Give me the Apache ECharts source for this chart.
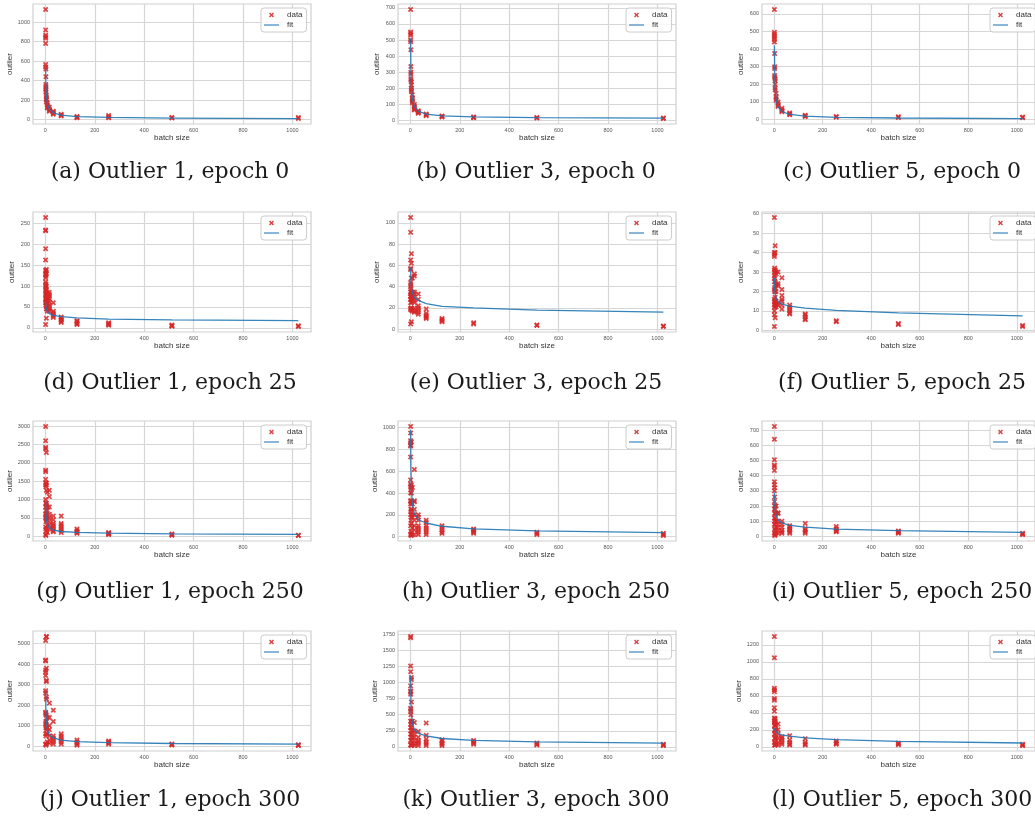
<!DOCTYPE html>
<html>
<head>
<meta charset="utf-8">
<script src="https://cdn.jsdelivr.net/npm/echarts@6.0.0/dist/echarts.min.js"></script>
<style>
  html, body { margin: 0; padding: 0; background: #ffffff; }
  #chart { width: 1035px; height: 819px; }
</style>
</head>
<body>
<div id="chart"></div>
<script>
// Batch sizes used in the sweep (x axis)
const batchSizes = [1, 2, 4, 8, 16, 32, 64, 128, 256, 512, 1024];
const xTicks = [0, 200, 400, 600, 800, 1000];

// Outlier counts: one inner list of runs per batch size
const o1e0 = [
  [1130, 920, 865, 850, 835, 780, 565, 540], [520, 440, 360, 340, 320, 300, 280],
  [250, 230, 210, 200, 180], [170, 150, 130, 120], [130, 110, 95, 85], [85, 75, 65, 55],
  [55, 45, 38], [32, 25, 20], [42, 28, 18], [22, 16], [22, 12]
];
const o3e0 = [
  [690, 550, 540, 530, 500, 490], [440, 335, 300, 290, 260, 250], [240, 220, 200, 190, 180],
  [160, 140, 130, 120, 110], [100, 90, 80, 70, 65], [60, 55, 50, 45], [40, 35, 30],
  [28, 25, 22], [22, 20, 17], [18, 15], [15, 12]
];
const o5e0 = [
  [625, 495, 485, 475, 465, 455, 440], [375, 300, 290, 250, 240], [230, 220, 200, 180, 170],
  [150, 130, 120, 110], [100, 90, 80, 75], [65, 55, 50, 45], [38, 32, 28], [25, 20, 17],
  [18, 14], [16, 12], [15, 10]
];
const o1e25 = [
  [265, 235, 233, 190, 163, 138, 128, 120, 110, 100, 90, 80, 70, 60, 8],
  [135, 130, 125, 105, 95, 85, 75, 65, 55], [140, 130, 100, 90, 80, 70, 60, 50, 45, 23],
  [85, 80, 75, 70, 65, 60, 50, 45, 40], [85, 80, 75, 70, 62, 55, 50, 45, 40],
  [60, 40, 36, 32, 28, 25], [26, 23, 20, 18, 15, 13], [17, 15, 12, 10, 8], [12, 10, 8, 6],
  [7, 5, 4], [5, 3]
];
const o3e25 = [
  [105, 91, 65, 57, 56, 44, 40, 35, 31, 28, 25, 19, 5], [42, 38, 33, 30, 20, 18],
  [71, 62, 48, 35, 30, 28, 25, 20, 7], [48, 35, 33, 30, 27, 18, 17],
  [52, 50, 35, 33, 30, 27, 25, 20, 17, 16], [33, 28, 22, 20, 18, 16, 14],
  [19, 15, 13, 12, 11, 10], [10, 9, 8, 7], [6, 5], [4, 3.5], [3, 2.5]
];
const o5e25 = [
  [58, 40, 39, 38, 31, 28, 25, 21, 16, 13, 10, 8, 2], [32, 30, 27, 22, 20, 15, 12],
  [43.5, 40, 31, 30, 25, 20, 17, 15, 14, 13, 6.5], [30, 29, 24, 23, 20, 15, 13, 12],
  [30, 24, 23, 14, 13], [27, 21, 18, 16, 15, 13, 11], [13, 12, 11, 10, 9, 8.5],
  [8.5, 8, 7, 6, 5.5], [5, 4.5], [3.5, 3], [2.5, 2]
];
const o1e250 = [
  [2990, 2600, 2420, 2380, 1800, 1760, 1550, 1400, 1000, 800, 600, 500, 250, 50],
  [1450, 1350, 900, 700, 550, 400, 200, 20], [2280, 1450, 1400, 1250, 900, 850, 600, 450, 150],
  [1200, 800, 700, 500, 300, 100], [1250, 1080, 800, 600, 500, 400, 300, 200],
  [550, 450, 350, 300, 250, 200, 150, 120], [550, 350, 300, 250, 200, 150, 100],
  [200, 150, 120, 100, 80], [100, 80, 60, 50], [60, 40, 30], [30, 20]
];
const o3e250 = [
  [1010, 950, 880, 860, 840, 830, 730, 520, 480, 460, 400, 330, 300, 200, 100, 20],
  [450, 320, 250, 230, 150, 50, 10], [870, 470, 440, 400, 330, 310, 250, 180, 120, 30],
  [450, 300, 200, 180, 80, 15], [615, 330, 320, 250, 200, 150, 100, 60, 20],
  [200, 180, 150, 100, 80, 60, 40, 20], [150, 130, 100, 80, 60, 40, 20],
  [100, 80, 60, 40, 30], [70, 60, 50, 40, 30], [40, 30, 20], [30, 20, 10]
];
const o5e250 = [
  [725, 640, 505, 470, 460, 435, 360, 340, 300, 230, 180, 120, 80, 20],
  [320, 260, 200, 150, 100, 50, 5], [200, 180, 150, 120, 80, 40, 10], [200, 150, 100, 60, 20],
  [155, 150, 100, 80, 60, 40, 20], [100, 80, 60, 40, 30, 20], [70, 60, 50, 40, 30, 20],
  [85, 50, 40, 30, 20], [65, 50, 40, 35, 30], [35, 30, 25, 20], [20, 15, 12]
];
const o1e300 = [
  [5150, 4200, 4150, 3700, 3600, 3450, 2700, 2600, 1650, 1600, 1100, 600, 100],
  [1550, 1200, 1000, 900, 500, 50], [5350, 5330, 3800, 3200, 3150, 2400, 2300, 1500, 1200, 800, 100],
  [1400, 900, 600, 200], [2100, 1400, 1000, 800, 500, 300, 150],
  [1750, 1200, 500, 400, 300, 200, 100], [600, 500, 400, 300, 200, 100],
  [300, 200, 150, 100, 50], [250, 200, 150, 100], [100, 80, 60], [70, 50, 30]
];
const o3e300 = [
  [1720, 1700, 1260, 1170, 950, 870, 850, 820, 600, 550, 400, 300, 200, 100, 30],
  [580, 500, 350, 250, 150, 30], [1080, 1050, 700, 400, 380, 300, 200, 100, 20],
  [400, 250, 150, 50], [380, 250, 200, 150, 100, 50, 20], [240, 150, 100, 80, 50, 20],
  [370, 180, 120, 80, 50, 20], [110, 90, 60, 40, 20], [100, 80, 60, 40], [60, 40, 30], [40, 30, 20]
];
const o5e300 = [
  [1300, 1050, 690, 670, 650, 570, 550, 460, 420, 340, 300, 250, 150, 50],
  [320, 280, 200, 100, 20], [330, 300, 280, 250, 200, 150, 100, 50, 20], [260, 200, 100, 30],
  [270, 200, 150, 100, 50, 20], [120, 100, 80, 50, 30], [130, 80, 50, 30, 20],
  [95, 50, 30, 20], [70, 50, 40, 30], [45, 35, 25], [30, 20, 15]
];

// Fitted curve, sampled at each batch size
const fitO1e0 = [530, 360, 240, 160, 105, 70, 46, 30, 22, 16, 11];
const fitO3e0 = [510, 330, 210, 135, 88, 58, 40, 29, 22, 18, 14];
const fitO5e0 = [420, 280, 180, 112, 72, 46, 30, 20, 13, 9, 6];
const fitO1e25 = [62, 52, 45, 39, 34, 30, 27, 24, 21, 19, 17];
const fitO3e25 = [58, 48, 40, 34, 30, 27, 24, 21.5, 20, 18, 16];
const fitO5e25 = [27, 22, 19, 16.5, 15, 13.5, 12.5, 11.5, 10.3, 9, 7.5];
const fitO1e250 = [950, 680, 470, 330, 230, 170, 130, 105, 85, 68, 50];
const fitO3e250 = [980, 650, 430, 300, 210, 155, 125, 95, 72, 52, 37];
const fitO5e250 = [290, 230, 180, 140, 110, 88, 72, 60, 48, 37, 26];
const fitO1e300 = [2700, 1800, 1200, 800, 550, 400, 290, 220, 170, 130, 95];
const fitO3e300 = [1110, 760, 520, 370, 270, 210, 170, 130, 100, 78, 58];
const fitO5e300 = [220, 210, 195, 175, 155, 140, 125, 105, 85, 65, 45];

// y tick labels per panel
const ticksO1e0 = [0, 200, 400, 600, 800, 1000];
const ticksO3e0 = [0, 100, 200, 300, 400, 500, 600, 700];
const ticksO5e0 = [0, 100, 200, 300, 400, 500, 600];
const ticksO1e25 = [0, 50, 100, 150, 200, 250];
const ticksO3e25 = [0, 20, 40, 60, 80, 100];
const ticksO5e25 = [0, 10, 20, 30, 40, 50, 60];
const ticksO1e250 = [0, 500, 1000, 1500, 2000, 2500, 3000];
const ticksO3e250 = [0, 200, 400, 600, 800, 1000];
const ticksO5e250 = [0, 100, 200, 300, 400, 500, 600, 700];
const ticksO1e300 = [0, 1000, 2000, 3000, 4000, 5000];
const ticksO3e300 = [0, 250, 500, 750, 1000, 1250, 1500, 1750];
const ticksO5e300 = [0, 200, 400, 600, 800, 1000, 1200];

const captions = [
  '(a) Outlier 1, epoch 0', '(b) Outlier 3, epoch 0', '(c) Outlier 5, epoch 0',
  '(d) Outlier 1, epoch 25', '(e) Outlier 3, epoch 25', '(f) Outlier 5, epoch 25',
  '(g) Outlier 1, epoch 250', '(h) Outlier 3, epoch 250', '(i) Outlier 5, epoch 250',
  '(j) Outlier 1, epoch 300', '(k) Outlier 3, epoch 300', '(l) Outlier 5, epoch 300'
];

const panels = [
  [o1e0, fitO1e0, ticksO1e0], [o3e0, fitO3e0, ticksO3e0], [o5e0, fitO5e0, ticksO5e0],
  [o1e25, fitO1e25, ticksO1e25], [o3e25, fitO3e25, ticksO3e25], [o5e25, fitO5e25, ticksO5e25],
  [o1e250, fitO1e250, ticksO1e250], [o3e250, fitO3e250, ticksO3e250], [o5e250, fitO5e250, ticksO5e250],
  [o1e300, fitO1e300, ticksO1e300], [o3e300, fitO3e300, ticksO3e300], [o5e300, fitO5e300, ticksO5e300]
];

// Page layout
const colLeft = [33, 398, 762];
const rowTop = [4, 212, 421, 631];
const plotW = 278, plotH = 120;
const capX = [170, 536, 902];
const capY = [172, 383, 592, 800];

const crossPath = 'path://M0,2.2L2.2,0L5,2.8L7.8,0L10,2.2L7.2,5L10,7.8L7.8,10L5,7.2L2.2,10L0,7.8L2.8,5Z';
const lineIcon = 'path://M0,0H150V13H0Z';
const sans = 'Liberation Sans, Arial, sans-serif';

// matplotlib-style 5% margins around the data
function padRange(lo, hi) {
  const p = (hi - lo) * 0.05;
  return [lo - p, hi + p];
}
const xRange = padRange(batchSizes[0], batchSizes[batchSizes.length - 1]);

const grid = [], xAxis = [], yAxis = [], series = [], legend = [], graphic = [];

panels.forEach(([groups, fit, yTicks], i) => {
  const col = i % 3, row = Math.floor(i / 3);
  const left = colLeft[col], top = rowTop[row];

  const pts = [];
  groups.forEach((vals, k) => vals.forEach(v => pts.push([batchSizes[k], v])));
  const allY = pts.map(p => p[1]).concat(fit);
  const yRange = padRange(Math.min(...allY), Math.max(...allY));

  grid.push({
    left: left, top: top, width: plotW, height: plotH,
    show: true, backgroundColor: '#ffffff', borderColor: '#cfcfcf', borderWidth: 1.2,
    containLabel: false
  });
  xAxis.push({
    gridIndex: i, type: 'value', min: xRange[0], max: xRange[1],
    axisLine: { show: false },
    axisTick: { show: false, customValues: xTicks },
    axisLabel: { customValues: xTicks, fontSize: 5.5, color: '#555', margin: 3, fontFamily: sans,
                 formatter: v => String(v) },
    splitLine: { show: true, lineStyle: { color: '#d6d6d6', width: 1.2 } },
    name: 'batch size', nameLocation: 'middle', nameGap: 10,
    nameTextStyle: { fontSize: 8, color: '#333', fontFamily: sans }
  });
  yAxis.push({
    gridIndex: i, type: 'value', min: yRange[0], max: yRange[1],
    axisLine: { show: false },
    axisTick: { show: false, customValues: yTicks },
    axisLabel: { customValues: yTicks, fontSize: 5.5, color: '#555', margin: 3, fontFamily: sans,
                 formatter: v => String(v) },
    splitLine: { show: true, lineStyle: { color: '#d6d6d6', width: 1.2 } },
    name: 'outlier', nameLocation: 'middle', nameGap: 17,
    nameTextStyle: { fontSize: 8, color: '#333', fontFamily: sans }
  });
  series.push({
    name: 'data', type: 'scatter', xAxisIndex: i, yAxisIndex: i,
    symbol: crossPath, symbolSize: 5.5,
    itemStyle: { color: '#d62728', opacity: 0.85 },
    data: pts, z: 2, silent: true
  });
  series.push({
    name: 'fit', type: 'line', xAxisIndex: i, yAxisIndex: i,
    symbol: 'none', showSymbol: false,
    lineStyle: { color: '#1f77b4', width: 1.3, opacity: 0.9 },
    itemStyle: { color: '#1f77b4' },
    data: batchSizes.map((b, k) => [b, fit[k]]), z: 3, silent: true
  });
  legend.push({
    left: left + plotW - 50, top: top + 4, orient: 'vertical',
    data: [
      { name: 'data', icon: crossPath },
      { name: 'fit', icon: lineIcon, itemStyle: { color: '#4a90c8' } }
    ],
    itemWidth: 15, itemHeight: 5, itemGap: 2,
    backgroundColor: 'rgba(255,255,255,0.85)', borderColor: '#cccccc', borderWidth: 1,
    borderRadius: 3, padding: [3, 4, 3, 3],
    textStyle: { fontSize: 8, color: '#333', fontFamily: sans, padding: [0, 0, 0, 3] },
    selectedMode: false
  });
  graphic.push({
    type: 'text', x: capX[col], y: capY[row],
    style: {
      text: captions[i], align: 'center', verticalAlign: 'middle',
      font: '22px "DejaVu Serif", serif', fill: '#1a1a1a'
    }
  });
});

const chart = echarts.init(document.getElementById('chart'), null, { renderer: 'canvas' });
chart.setOption({
  animation: false,
  backgroundColor: '#ffffff',
  grid, xAxis, yAxis, series, legend, graphic
});
</script>
</body>
</html>
